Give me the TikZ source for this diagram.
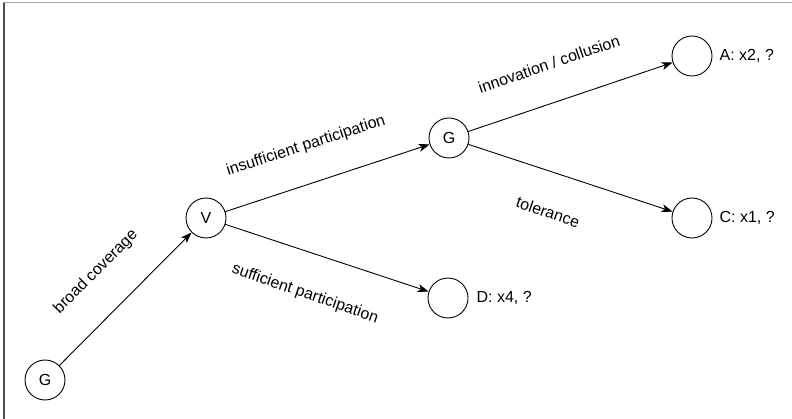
\documentclass[tikz,border=0pt]{standalone}
\usepackage{fontspec}
\setmainfont{Liberation Sans}
\usetikzlibrary{arrows.meta,positioning}

\begin{document}
\begin{tikzpicture}[x=1pt,y=-1pt,line cap=round,line join=round,
    state/.style={draw,circle,line width=0.9pt,minimum size=40pt,inner sep=0pt,font=\fontsize{16}{18}\selectfont},
    result/.style={font=\fontsize{16}{18}\selectfont,inner sep=0pt},
    move/.style={line width=0.9pt,-{Stealth[length=11pt,width=8pt,inset=3pt]}},
    choice/.style={font=\fontsize{16}{18}\selectfont,inner sep=0pt}]

    \useasboundingbox (0,0) rectangle (792,419);

    % frame
    \draw[gray!70,line width=1pt] (4,3) -- (792,3);
    \draw[black!70,line width=1.2pt] (4,3) -- (4,419);

    % states
    \node[state] (g0) at (45,380) {G};
    \node[state] (v) at (206,218) {V};
    \node[state] (g1) at (449,138) {G};
    \node[state] (d) at (448,298) {};
    \node[state] (a) at (692,56) {};
    \node[state] (c) at (692,218) {};

    % outcomes
    \node[result,anchor=west] (da) at ([xshift=8pt]d.east) {D: x4, ?};
    \node[result,anchor=west] (aa) at ([xshift=7pt]a.east) {A: x2, ?};
    \node[result,anchor=west] (ca) at ([xshift=7pt]c.east) {C: x1, ?};

    % moves
    \draw[move] (g0) -- (v);
    \draw[move] (v) -- (g1);
    \draw[move] (v) -- (d);
    \draw[move] (g1) -- (a);
    \draw[move] (g1) -- (c);

    % labels
    \node[choice,rotate=45] (lbroad) at (96,272) {broad coverage};
    \node[choice,rotate=18] (linsuff) at (306,146) {insufficient participation};
    \node[choice,rotate=-19] (lsuff) at (305,294) {sufficient participation};
    \node[choice,rotate=19] (linno) at (549,64) {innovation / collusion};
    \node[choice,rotate=-19] (ltol) at (548,212) {tolerance};

\end{tikzpicture}
\end{document}
